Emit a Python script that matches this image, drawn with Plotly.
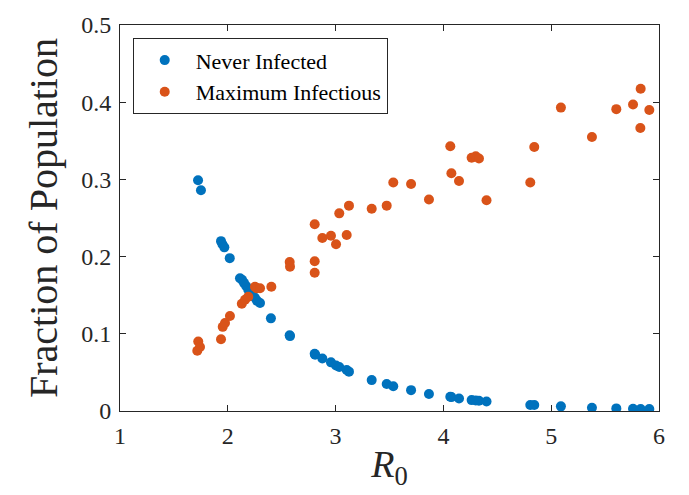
import plotly.graph_objects as go

# R0 values and outcomes
r0_never = [1.724, 1.751, 1.937, 1.950, 1.968, 2.018, 2.113, 2.132, 2.15, 2.17, 2.19,
            2.22, 2.25, 2.27, 2.299, 2.40, 2.574, 2.577, 2.806, 2.81, 2.877, 2.957,
            3.004, 3.034, 3.103, 3.124, 3.335, 3.474, 3.535, 3.70, 3.866, 4.064,
            4.074, 4.145, 4.262, 4.30, 4.33, 4.40, 4.806, 4.843, 5.09, 5.378,
            5.604, 5.759, 5.83, 5.91]
never_infected = [0.299, 0.286, 0.220, 0.216, 0.212, 0.198, 0.172, 0.170, 0.166, 0.162,
                  0.157, 0.152, 0.147, 0.143, 0.140, 0.120, 0.098, 0.097, 0.074, 0.073,
                  0.068, 0.063, 0.059, 0.057, 0.053, 0.051, 0.040, 0.035, 0.032, 0.027,
                  0.022, 0.0185, 0.018, 0.0163, 0.0141, 0.0137, 0.0133, 0.0124, 0.0078,
                  0.0078, 0.006, 0.0043, 0.0034, 0.003, 0.0025, 0.0025]

r0_max = [1.717, 1.726, 1.742, 1.937, 1.953, 1.974, 2.02, 2.13, 2.16, 2.19, 2.252,
          2.268, 2.299, 2.404, 2.574, 2.577, 2.806, 2.806, 2.806, 2.877, 2.957, 3.004,
          3.034, 3.103, 3.124, 3.335, 3.474, 3.535, 3.70, 3.866, 4.064, 4.074, 4.145,
          4.262, 4.30, 4.33, 4.40, 4.806, 4.843, 5.09, 5.378, 5.604, 5.759, 5.83,
          5.827, 5.91]
max_infectious = [0.078, 0.090, 0.083, 0.093, 0.109, 0.114, 0.123, 0.139, 0.144, 0.148,
                  0.161, 0.159, 0.159, 0.161, 0.193, 0.187, 0.242, 0.194, 0.179, 0.224,
                  0.227, 0.216, 0.256, 0.228, 0.266, 0.262, 0.266, 0.296, 0.294, 0.274,
                  0.343, 0.308, 0.298, 0.328, 0.330, 0.327, 0.273, 0.296, 0.342, 0.393,
                  0.355, 0.391, 0.397, 0.4175, 0.3665, 0.390]

x_ticks = [1, 2, 3, 4, 5, 6]
y_ticks = [0, 0.1, 0.2, 0.3, 0.4, 0.5]
y_tick_labels = ["0", "0.1", "0.2", "0.3", "0.4", "0.5"]

BLUE = "#0072BD"
ORANGE = "#D95319"
AX = "#262626"
FONT = "Liberation Serif, Times New Roman, serif"

fig = go.Figure()
fig.add_trace(go.Scatter(x=r0_never, y=never_infected, mode="markers",
                         name="Never Infected",
                         marker=dict(color=BLUE, size=10, line=dict(width=0))))
fig.add_trace(go.Scatter(x=r0_max, y=max_infectious, mode="markers",
                         name="Maximum Infectious",
                         marker=dict(color=ORANGE, size=10, line=dict(width=0))))

axis_common = dict(showline=True, linecolor=AX, linewidth=1, mirror="ticks",
                   ticks="inside", ticklen=6, tickcolor=AX, showgrid=False,
                   zeroline=False, automargin=False,
                   tickfont=dict(family=FONT, size=24, color=AX))

fig.update_xaxes(range=[1, 6], tickvals=x_ticks, ticklabelstandoff=3,
                 title=dict(text="<i>R</i><sub>0</sub>",
                            font=dict(family=FONT, size=38, color=AX), standoff=2),
                 **axis_common)
fig.update_yaxes(range=[0, 0.5], tickvals=y_ticks, ticktext=y_tick_labels,
                 ticklabelstandoff=3,
                 title=dict(text="Fraction of Population",
                            font=dict(family=FONT, size=40, color=AX), standoff=11),
                 **axis_common)

# the page body adds an 8px offset; margins are chosen so the plot box lands
# at x 120..659 and y 25..411 in the window
fig.update_layout(
    width=689, height=495,
    margin=dict(l=112, r=38, t=17, b=92, autoexpand=False),
    paper_bgcolor="white", plot_bgcolor="white",
    showlegend=True,
    legend=dict(x=0.0236, y=0.9655, xanchor="left", yanchor="top",
                bgcolor="white", bordercolor=AX, borderwidth=1,
                font=dict(family=FONT, size=22, color="black"),
                itemwidth=52, tracegroupgap=0),
)

fig.write_html("out.html")
